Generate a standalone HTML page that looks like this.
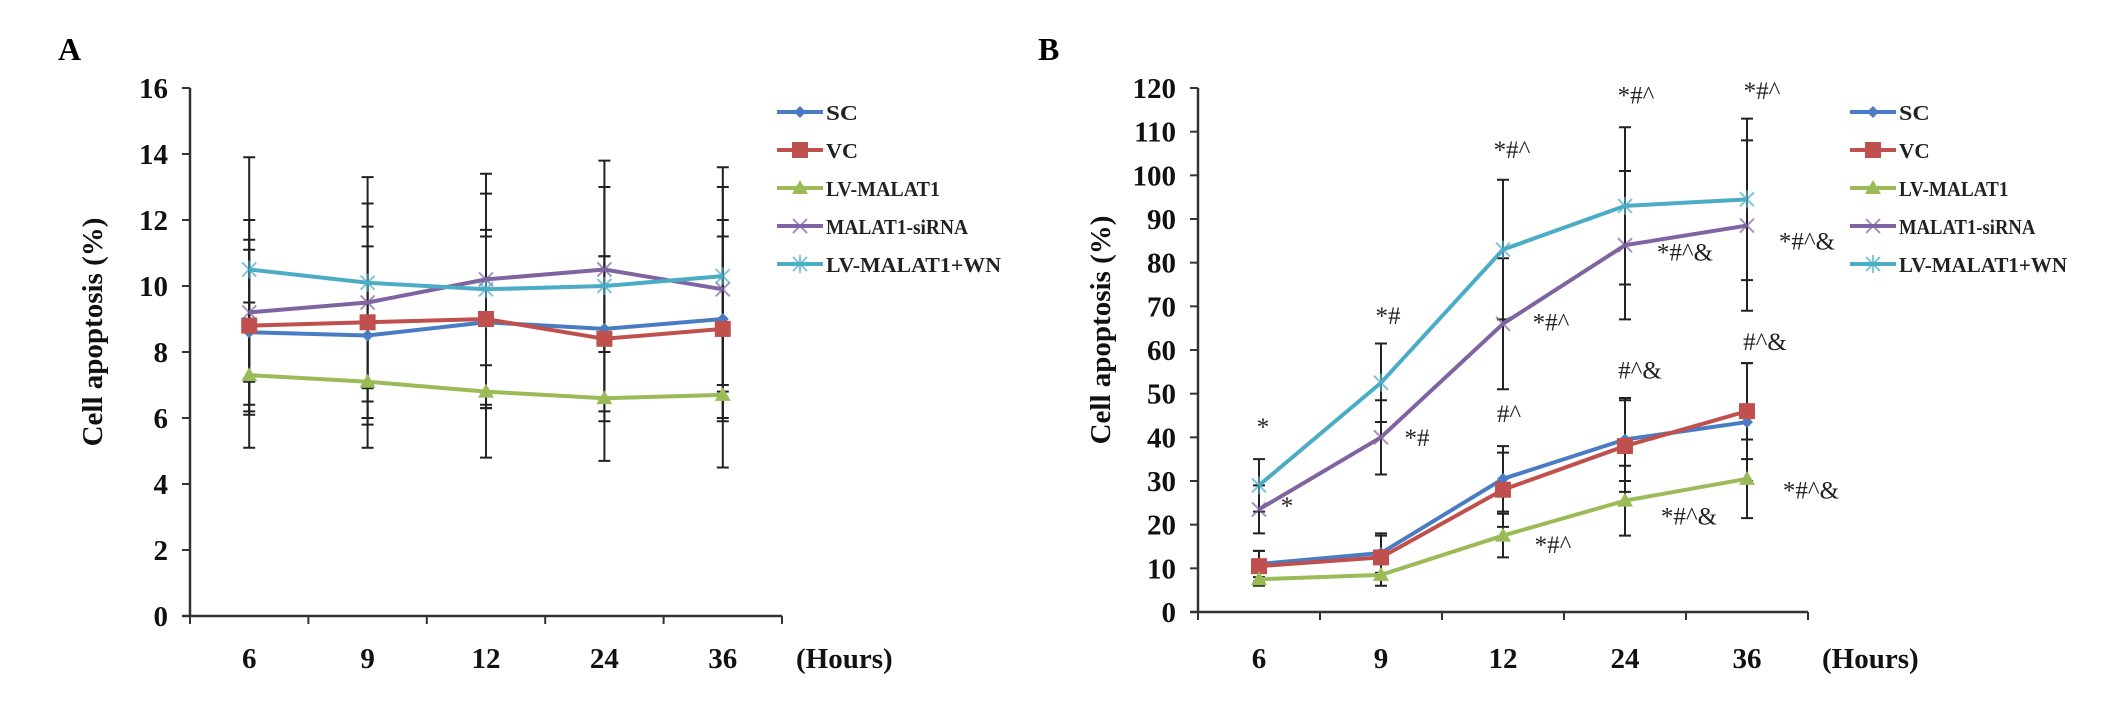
<!DOCTYPE html>
<html><head><meta charset="utf-8"><style>
html,body{margin:0;padding:0;background:#fff;}
svg{display:block;font-family:"Liberation Serif",serif;}
</style></head><body>
<svg id="fig" width="2126" height="702" viewBox="0 0 2126 702" xmlns="http://www.w3.org/2000/svg">
<text x="58" y="60" font-size="32" font-weight="bold">A</text>
<text x="1038" y="60" font-size="32" font-weight="bold">B</text>
<g id="pa"></g>
<g id="pb"></g>
</svg>
<script>
const categories = ["6","9","12","24","36"];
const seriesNames = ["SC","VC","LV-MALAT1","MALAT1-siRNA","LV-MALAT1+WN"];
const aSC = [8.6,8.5,8.9,8.7,9.0];
const aVC = [8.8,8.9,9.0,8.4,8.7];
const aLV = [7.3,7.1,6.8,6.6,6.7];
const aSi = [9.2,9.5,10.2,10.5,9.9];
const aWN = [10.5,10.1,9.9,10.0,10.3];
const aErrSC = [2.5,2.7,2.6,2.2,3.0];
const aErrVC = [2.6,2.9,2.7,2.5,2.8];
const aErrLV = [2.2,2.0,2.0,1.9,2.2];
const aErrSi = [2.8,3.0,2.6,2.5,3.1];
const aErrWN = [3.4,3.2,3.5,3.8,3.3];
const aTicks = [0,2,4,6,8,10,12,14,16];
const bSC = [11,13.5,30.5,39.5,43.5];
const bVC = [10.5,12.5,28,38,46];
const bLV = [7.5,8.5,17.5,25.5,30.5];
const bSi = [23.5,40,66,84,88.5];
const bWN = [29,52.5,83,93,94.5];
const bErrSC = [3,4.5,7.5,9.5,13.5];
const bErrVC = [3.5,5,8.5,10.5,11];
const bErrLV = [1.5,2.5,5,8,9];
const bErrSi = [5.5,8.5,15,17,19.5];
const bErrWN = [6,9,16,18,18.5];
const bTicks = [0,10,20,30,40,50,60,70,80,90,100,110,120];
const bNotesText = ["*","*","*#","*#","*#^","*#^","#^","*#^","*#^","*#^&","#^&","*#^&","*#^","*#^&","#^&","*#^&"];
const bNotesCat = [0,0,1,1,2,2,2,2,3,3,3,3,4,4,4,4];
const bNotesVal = [40.5,22.5,66,38,104,64.5,43.5,13.5,116.5,80.5,53.5,20,117.5,83,60,26];
const bNotesDx = [4,28,7,36,9,48,6,50,11,60,15,64,15,60,18,64];

const colors = ["#4a7cc4","#c0504d","#9bbb59","#8064a2","#4bacc6"];
const markers = ["diamond","square","triangle","x","star"];
const NS="http://www.w3.org/2000/svg";
function mk(tag,attrs,parent){const e=document.createElementNS(NS,tag);for(const k in attrs)e.setAttribute(k,attrs[k]);parent.appendChild(e);return e;}

function marker(g,type,x,y,c){
  let e;
  if(type==="diamond"){e=mk("path",{d:`M${x} ${y-6}L${x+6} ${y}L${x} ${y+6}L${x-6} ${y}Z`,fill:c},g);}
  else if(type==="square"){e=mk("rect",{x:x-8,y:y-8,width:16,height:16,fill:c},g);}
  else if(type==="triangle"){e=mk("path",{d:`M${x} ${y-8}L${x+8} ${y+6}L${x-8} ${y+6}Z`,fill:c},g);}
  else if(type==="x"){e=mk("path",{d:`M${x-7} ${y-7}L${x+7} ${y+7}M${x-7} ${y+7}L${x+7} ${y-7}`,stroke:c,"stroke-width":2,fill:"none",opacity:0.7},g);}
  else {e=mk("path",{d:`M${x-7} ${y-7}L${x+7} ${y+7}M${x-7} ${y+7}L${x+7} ${y-7}M${x} ${y-9}L${x} ${y+9}`,stroke:c,"stroke-width":2,fill:"none",opacity:0.7},g);}
  return e;
}

function panel(gid,ax,ay0,ay1,axEnd,ticks,vmax,series,errs,legX,prefix){
  const g=document.getElementById(gid);
  const n=categories.length;
  const step=(axEnd-ax)/n;
  const xs=i=>ax+step*(i+0.5);
  const ys=v=>ay0-(v/vmax)*(ay0-ay1);
  const yaxis=mk("line",{x1:ax,y1:ay1,x2:ax,y2:ay0,stroke:"#333","stroke-width":2.5},g);
  
  
  const xaxis=mk("line",{x1:ax-8,y1:ay0,x2:axEnd,y2:ay0,stroke:"#333","stroke-width":2.5},g);
  
  
  ticks.forEach(t=>{
    const y=ys(t);
    mk("line",{x1:ax-8,y1:y,x2:ax,y2:y,stroke:"#333","stroke-width":2},g);
    const tl=mk("text",{x:ax-22,y:y+10,"text-anchor":"end","font-size":29,"font-weight":"bold",fill:"#111"},g);
    tl.textContent=t;
    
    
  });
  for(let i=0;i<=n;i++){const x=ax+step*i;mk("line",{x1:x,y1:ay0,x2:x,y2:ay0+8,stroke:"#333","stroke-width":2},g);}
  categories.forEach((c,i)=>{
    const t=mk("text",{x:xs(i),y:668,"text-anchor":"middle","font-size":29,"font-weight":"bold",fill:"#111"},g);
    t.textContent=c;
    
    
  });
  const hl=mk("text",{x:axEnd+14,y:668,"font-size":29,"font-weight":"bold",fill:"#111"},g);
  hl.textContent="(Hours)";
  
  
  const yt=mk("text",{x:0,y:0,"text-anchor":"middle","font-size":29,"font-weight":"bold",fill:"#111",transform:`translate(${ax-88},${(ay0+ay1)/2-20}) rotate(-90)`},g);
  yt.textContent="Cell  apoptosis (%)";
  
  
  series.forEach((s,si)=>{
    s.forEach((v,i)=>{
      const x=xs(i),e=errs[si][i];
      const eb=mk("path",{d:`M${x} ${ys(v+e)}L${x} ${ys(v-e)}M${x-6} ${ys(v+e)}L${x+6} ${ys(v+e)}M${x-6} ${ys(v-e)}L${x+6} ${ys(v-e)}`,stroke:"#222","stroke-width":2,fill:"none"},g);
      
      
    });
  });
  series.forEach((s,si)=>{
    const pts=s.map((v,i)=>xs(i)+","+ys(v)).join(" ");
    const pl=mk("polyline",{points:pts,fill:"none",stroke:colors[si],"stroke-width":4,"stroke-linejoin":"round"},g);
    
    
    s.forEach((v,i)=>{
      const m=marker(g,markers[si],xs(i),ys(v),colors[si]);
      
      
    });
  });
  seriesNames.forEach((nm,si)=>{
    const y=112+38*si;
    const lg=mk("g",{},g);
    
    
    mk("line",{x1:legX,y1:y,x2:legX+46,y2:y,stroke:colors[si],"stroke-width":4},lg);
    marker(lg,markers[si],legX+23,y,colors[si]);
    const lens=[32,32,114,142,175];
    const t=mk("text",{x:legX+49,y:y+8,"font-size":21,"font-weight":"bold",fill:"#222",textLength:lens[si]*(prefix==="b"?0.96:1),lengthAdjust:"spacingAndGlyphs"},lg);
    t.textContent=nm;
  });
  return {xs,ys,g};
}

panel("pa",190,616,88,782,aTicks,16,[aSC,aVC,aLV,aSi,aWN],[aErrSC,aErrVC,aErrLV,aErrSi,aErrWN],777,"a");
const pb=panel("pb",1198,612,88,1808,bTicks,120,[bSC,bVC,bLV,bSi,bWN],[bErrSC,bErrVC,bErrLV,bErrSi,bErrWN],1850,"b");
bNotesText.forEach((t,i)=>{
  const x=pb.xs(bNotesCat[i])+bNotesDx[i];
  const y=pb.ys(bNotesVal[i]);
  const e=mk("text",{x:x,y:y,"text-anchor":"middle","font-size":25,fill:"#222"},pb.g);
  e.textContent=t;
  
  
});
</script>
</body></html>
